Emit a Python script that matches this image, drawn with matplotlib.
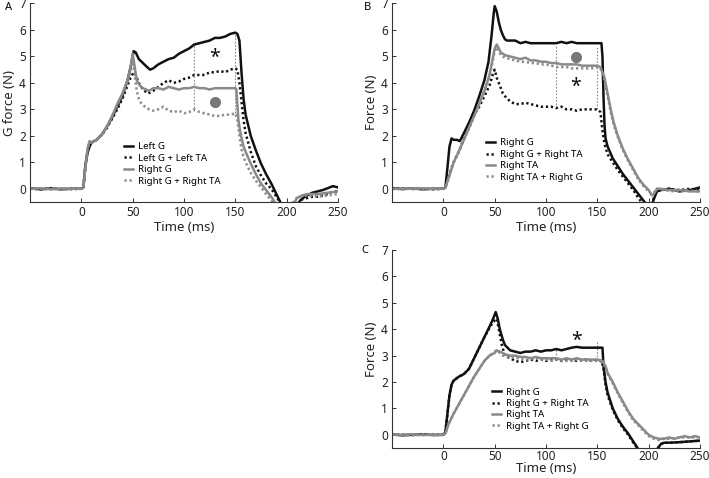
import matplotlib
matplotlib.use("Agg")
import matplotlib.pyplot as plt

plt.rcParams['font.family'] = ['Noto Sans', 'DejaVu Sans']

# ---------------- Panel A ----------------
A_leftG_t = [-50, -40, -30, -20, -10, 0, 2, 4, 6, 8, 10, 15, 20, 25, 30, 35, 40, 45, 48, 51, 53, 56, 60, 64, 67, 70, 75, 80, 85, 90, 95, 100, 105, 110, 115, 120, 125, 130, 135, 140, 145, 150, 152, 154, 156, 158, 160, 165, 170, 175, 180, 185, 190, 195, 200, 205, 210, 213, 216, 220, 225, 230, 235, 240, 245, 250]
A_leftG_f = [0.02, -0.02, 0.01, -0.02, 0.0, 0.0, 0.05, 0.9, 1.35, 1.6, 1.75, 1.85, 2.05, 2.35, 2.7, 3.1, 3.5, 4.1, 4.6, 5.2, 5.15, 4.9, 4.75, 4.6, 4.5, 4.55, 4.7, 4.8, 4.9, 4.95, 5.1, 5.2, 5.3, 5.45, 5.5, 5.55, 5.6, 5.7, 5.7, 5.75, 5.85, 5.9, 5.85, 5.6, 4.4, 3.4, 2.8, 2.0, 1.45, 0.95, 0.55, 0.2, -0.2, -0.6, -0.8, -0.8, -0.7, -0.45, -0.35, -0.25, -0.15, -0.1, -0.05, 0.02, 0.1, 0.05]

A_leftGTA_t = [-50, -40, -30, -20, -10, 0, 2, 4, 6, 8, 10, 15, 20, 25, 30, 35, 40, 45, 48, 51, 53, 56, 60, 65, 70, 75, 80, 85, 90, 95, 100, 105, 110, 115, 120, 125, 130, 135, 140, 145, 150, 152, 154, 156, 158, 160, 165, 170, 175, 180, 185, 190, 195, 200, 208, 212, 215, 220, 225, 230, 235, 240, 245, 250]
A_leftGTA_f = [0.01, -0.02, 0.02, 0.0, -0.01, 0.0, 0.05, 0.9, 1.4, 1.65, 1.75, 1.85, 2.05, 2.3, 2.65, 3.0, 3.4, 3.9, 4.2, 4.4, 4.3, 4.0, 3.75, 3.6, 3.7, 3.85, 4.0, 4.1, 4.0, 4.05, 4.15, 4.2, 4.3, 4.3, 4.3, 4.4, 4.4, 4.45, 4.4, 4.5, 4.55, 4.5, 4.0, 3.3, 2.6, 2.1, 1.4, 0.85, 0.5, 0.2, 0.0, -0.3, -0.6, -0.8, -0.8, -0.5, -0.4, -0.35, -0.3, -0.3, -0.25, -0.2, -0.1, -0.1]

A_rightG_t = [-50, -40, -30, -20, -10, 0, 2, 4, 6, 8, 10, 15, 20, 25, 30, 35, 40, 45, 48, 50, 52, 54, 57, 60, 63, 66, 70, 75, 80, 85, 90, 95, 100, 105, 110, 115, 120, 125, 130, 135, 140, 145, 150, 151, 153, 155, 158, 160, 165, 170, 175, 180, 185, 190, 205, 208, 210, 215, 220, 230, 240, 250]
A_rightG_f = [-0.01, 0.02, -0.02, 0.01, 0.0, 0.0, 0.05, 0.8, 1.5, 1.8, 1.75, 1.85, 2.05, 2.35, 2.75, 3.2, 3.6, 4.1, 4.6, 5.1, 4.6, 4.1, 3.9, 3.8, 3.75, 3.7, 3.8, 3.8, 3.75, 3.85, 3.8, 3.75, 3.8, 3.8, 3.85, 3.8, 3.8, 3.75, 3.8, 3.8, 3.8, 3.8, 3.8, 3.75, 2.6, 2.1, 1.6, 1.4, 0.95, 0.55, 0.2, -0.05, -0.3, -0.6, -0.8, -0.5, -0.35, -0.25, -0.2, -0.2, -0.15, -0.1]

A_rightGTA_t = [-50, -40, -30, -20, -10, 0, 2, 4, 6, 8, 10, 15, 20, 25, 30, 35, 40, 45, 48, 50, 52, 54, 56, 58, 62, 66, 70, 75, 80, 85, 90, 95, 100, 105, 110, 115, 120, 125, 130, 135, 140, 145, 150, 152, 154, 156, 158, 160, 165, 170, 175, 180, 185, 190, 205, 208, 212, 220, 230, 240, 250]
A_rightGTA_f = [0.02, 0.0, -0.02, 0.02, -0.01, 0.0, 0.05, 0.8, 1.5, 1.75, 1.75, 1.85, 2.05, 2.35, 2.75, 3.15, 3.55, 4.0, 4.5, 4.8, 4.3, 3.7, 3.4, 3.25, 3.1, 3.0, 2.95, 3.0, 3.1, 2.95, 2.9, 2.95, 2.85, 2.9, 3.0, 2.9, 2.85, 2.8, 2.75, 2.75, 2.8, 2.8, 2.85, 2.6, 2.0, 1.5, 1.2, 1.0, 0.6, 0.3, 0.05, -0.2, -0.45, -0.65, -0.6, -0.4, -0.3, -0.25, -0.3, -0.25, -0.2]

# ---------------- Panel B ----------------
B_rightG_t = [-50, -40, -30, -20, -10, 0, 2, 4, 6, 8, 10, 13, 16, 20, 25, 30, 35, 40, 44, 47, 49, 50, 52, 54, 56, 58, 60, 62, 65, 70, 75, 80, 85, 90, 95, 100, 105, 110, 115, 120, 125, 130, 135, 140, 145, 150, 154, 155, 156, 157, 158, 160, 165, 170, 175, 180, 185, 190, 195, 200, 203, 206, 208, 212, 220, 225, 230, 240, 245, 250]
B_rightG_f = [0.02, -0.01, 0.01, -0.02, 0.0, 0.0, 0.05, 0.8, 1.6, 1.9, 1.85, 1.85, 1.8, 2.1, 2.5, 2.95, 3.5, 4.1, 4.8, 5.8, 6.6, 6.9, 6.7, 6.3, 6.0, 5.8, 5.65, 5.6, 5.6, 5.6, 5.5, 5.55, 5.5, 5.5, 5.5, 5.5, 5.5, 5.5, 5.55, 5.5, 5.55, 5.5, 5.5, 5.5, 5.5, 5.5, 5.5, 5.0, 3.5, 2.4, 1.9, 1.6, 1.15, 0.85, 0.55, 0.3, 0.05, -0.2, -0.45, -0.7, -0.6, -0.3, -0.1, -0.05, 0.0, -0.05, -0.1, -0.05, 0.0, 0.05]

B_rightGTA_t = [-50, -40, -30, -20, -10, 0, 2, 5, 8, 10, 15, 20, 25, 30, 35, 40, 45, 48, 50, 52, 55, 58, 60, 65, 70, 75, 80, 85, 90, 95, 100, 105, 110, 115, 120, 125, 130, 135, 140, 145, 150, 153, 155, 157, 160, 165, 170, 175, 180, 185, 190, 195, 203, 206, 210, 220, 230, 240, 250]
B_rightGTA_f = [0.01, 0.02, -0.01, 0.01, -0.02, 0.0, 0.05, 0.4, 0.8, 1.0, 1.4, 1.9, 2.3, 2.8, 3.1, 3.5, 3.9, 4.3, 4.5, 4.2, 3.9, 3.6, 3.5, 3.3, 3.2, 3.2, 3.25, 3.2, 3.15, 3.1, 3.1, 3.1, 3.05, 3.1, 3.0, 3.0, 2.95, 3.0, 3.0, 3.0, 3.0, 2.9, 2.2, 1.7, 1.3, 1.0, 0.7, 0.45, 0.2, -0.05, -0.35, -0.6, -0.6, -0.2, -0.05, 0.0, -0.05, 0.0, -0.05]

B_rightTA_t = [-50, -40, -30, -20, -10, 0, 2, 5, 8, 10, 15, 20, 25, 30, 35, 40, 45, 48, 50, 52, 54, 56, 60, 65, 70, 75, 80, 85, 90, 95, 100, 105, 110, 115, 120, 125, 130, 135, 140, 145, 150, 153, 155, 157, 160, 163, 166, 170, 175, 180, 185, 190, 195, 200, 203, 205, 208, 212, 220, 230, 240, 250]
B_rightTA_f = [-0.01, 0.01, 0.0, 0.02, -0.01, 0.0, 0.05, 0.4, 0.75, 1.0, 1.4, 1.85, 2.3, 2.75, 3.2, 3.7, 4.3, 4.9, 5.3, 5.45, 5.3, 5.15, 5.05, 5.0, 4.95, 4.9, 4.95, 4.85, 4.85, 4.8, 4.8, 4.75, 4.75, 4.7, 4.7, 4.7, 4.7, 4.65, 4.65, 4.65, 4.65, 4.6, 4.4, 4.2, 3.6, 3.0, 2.5, 2.0, 1.5, 1.1, 0.75, 0.4, 0.15, -0.05, -0.25, -0.2, 0.0, 0.0, -0.05, -0.05, -0.1, -0.1]

B_rightTAG_t = [-50, -40, -30, -20, -10, 0, 2, 5, 8, 10, 15, 20, 25, 30, 35, 40, 45, 48, 50, 52, 54, 56, 60, 65, 70, 75, 80, 85, 90, 95, 100, 105, 110, 115, 120, 125, 130, 135, 140, 145, 150, 153, 155, 157, 160, 163, 166, 170, 175, 180, 185, 190, 195, 200, 203, 205, 208, 215, 225, 235, 250]
B_rightTAG_f = [0.0, -0.02, 0.01, -0.01, 0.02, 0.0, 0.05, 0.4, 0.75, 1.0, 1.4, 1.85, 2.3, 2.75, 3.2, 3.7, 4.25, 4.8, 5.2, 5.35, 5.2, 5.05, 4.95, 4.9, 4.85, 4.8, 4.8, 4.75, 4.75, 4.7, 4.7, 4.65, 4.6, 4.6, 4.6, 4.55, 4.55, 4.55, 4.55, 4.55, 4.6, 4.55, 4.35, 4.1, 3.5, 2.9, 2.4, 1.95, 1.45, 1.05, 0.7, 0.35, 0.1, -0.1, -0.2, -0.15, 0.0, -0.05, -0.1, -0.05, -0.1]

# ---------------- Panel C ----------------
C_rightG_t = [-50, -40, -30, -20, -10, 0, 2, 4, 6, 8, 10, 15, 20, 25, 30, 35, 40, 45, 48, 51, 53, 55, 58, 60, 65, 70, 75, 80, 85, 90, 95, 100, 105, 110, 115, 120, 125, 130, 135, 140, 145, 150, 155, 156, 158, 160, 165, 170, 175, 180, 185, 190, 208, 212, 215, 220, 230, 240, 250]
C_rightG_f = [0.01, -0.02, 0.0, 0.02, -0.01, 0.0, 0.1, 0.8, 1.5, 1.9, 2.05, 2.2, 2.3, 2.5, 2.9, 3.3, 3.7, 4.1, 4.35, 4.65, 4.4, 4.0, 3.6, 3.4, 3.2, 3.15, 3.1, 3.15, 3.15, 3.2, 3.15, 3.2, 3.2, 3.25, 3.2, 3.25, 3.3, 3.33, 3.3, 3.3, 3.3, 3.3, 3.3, 2.6, 2.0, 1.6, 1.0, 0.6, 0.3, 0.05, -0.25, -0.55, -0.55, -0.35, -0.3, -0.3, -0.28, -0.25, -0.22]

C_rightGTA_t = [-50, -40, -30, -20, -10, 0, 2, 4, 6, 8, 10, 15, 20, 25, 30, 35, 40, 45, 48, 52, 54, 57, 60, 65, 70, 75, 80, 85, 90, 95, 100, 105, 110, 115, 120, 125, 130, 135, 140, 145, 150, 154, 156, 158, 160, 165, 170, 175, 180, 185, 190, 208, 212, 215, 220, 230, 240, 250]
C_rightGTA_f = [0.0, 0.02, -0.01, 0.0, 0.01, 0.0, 0.1, 0.8, 1.5, 1.9, 2.05, 2.2, 2.3, 2.5, 2.9, 3.3, 3.7, 4.05, 4.25, 4.4, 4.0, 3.4, 3.0, 2.9, 2.8, 2.75, 2.8, 2.85, 2.8, 2.85, 2.8, 2.85, 2.85, 2.8, 2.85, 2.85, 2.8, 2.85, 2.85, 2.8, 2.85, 2.8, 2.5, 1.9, 1.5, 0.95, 0.55, 0.25, 0.0, -0.3, -0.55, -0.55, -0.35, -0.3, -0.3, -0.28, -0.25, -0.22]

C_rightTA_t = [-50, -40, -30, -20, -10, 0, 2, 5, 10, 15, 20, 25, 30, 35, 40, 45, 50, 52, 55, 58, 60, 65, 70, 75, 80, 85, 90, 95, 100, 105, 110, 115, 120, 125, 130, 135, 140, 145, 150, 155, 158, 160, 165, 170, 175, 180, 185, 190, 195, 200, 205, 210, 215, 220, 225, 230, 235, 240, 245, 250]
C_rightTA_f = [0.01, 0.0, 0.02, -0.01, 0.0, 0.0, 0.05, 0.4, 0.8, 1.15, 1.5, 1.85, 2.2, 2.5, 2.8, 3.0, 3.1, 3.2, 3.15, 3.1, 3.05, 3.0, 3.0, 2.95, 2.95, 2.9, 2.95, 2.9, 2.9, 2.9, 2.9, 2.85, 2.9, 2.85, 2.9, 2.85, 2.85, 2.85, 2.85, 2.8, 2.6, 2.35, 2.0, 1.6, 1.25, 0.9, 0.6, 0.4, 0.2, 0.0, -0.1, -0.15, -0.15, -0.1, -0.15, -0.1, -0.05, -0.1, -0.05, -0.1]

C_rightTAG_t = [-50, -40, -30, -20, -10, 0, 2, 5, 10, 15, 20, 25, 30, 35, 40, 45, 50, 52, 55, 58, 60, 65, 70, 75, 80, 85, 90, 95, 100, 105, 110, 115, 120, 125, 130, 135, 140, 145, 150, 155, 158, 160, 165, 170, 175, 180, 185, 190, 195, 200, 205, 210, 215, 220, 230, 240, 250]
C_rightTAG_f = [0.0, 0.01, -0.01, 0.02, 0.0, 0.0, 0.05, 0.4, 0.8, 1.15, 1.5, 1.85, 2.2, 2.5, 2.8, 3.0, 3.15, 3.2, 3.1, 3.0, 2.95, 2.95, 2.9, 2.9, 2.85, 2.85, 2.9, 2.85, 2.85, 2.8, 2.85, 2.8, 2.8, 2.8, 2.85, 2.8, 2.8, 2.8, 2.8, 2.75, 2.55, 2.3, 1.95, 1.55, 1.2, 0.85, 0.55, 0.35, 0.15, -0.05, -0.15, -0.2, -0.15, -0.15, -0.1, -0.1, -0.1]

# vertical dotted reference lines: (x, ymin, ymax)
A_vlines = [(110, 2.95, 5.42), (150, 2.85, 5.88)]
B_vlines = [(110, 3.05, 5.4), (150, 3.0, 5.4)]
C_vlines = [(110, 2.9, 3.3), (150, 2.85, 3.55)]

A_labels = ["Left G", "Left G + Left TA", "Right G", "Right G + Right TA"]
B_labels = ["Right G", "Right G + Right TA", "Right TA", "Right TA + Right G"]
C_labels = ["Right G", "Right G + Right TA", "Right TA", "Right TA + Right G"]

x_ticks = [0, 50, 100, 150, 200, 250]
y_ticks = [0, 1, 2, 3, 4, 5, 6, 7]

BLACK = "#111111"
GRAY = "#8a8a8a"
DOT = (0, (0.9, 1.1))

W, H = 709, 478
fig = plt.figure(figsize=(W / 100, H / 100), dpi=100)


def make_axes(l, r, t, b):
    return fig.add_axes([l / W, 1 - b / H, (r - l) / W, (b - t) / H])


def style(ax, ylabel, xpad=3, xlabelpad=1):
    ax.set_xlim(-50, 250)
    ax.set_ylim(-0.5, 7)
    ax.set_xticks(x_ticks)
    ax.set_yticks(y_ticks)
    for s in ["top", "right"]:
        ax.spines[s].set_visible(False)
    for s in ["left", "bottom"]:
        ax.spines[s].set_linewidth(0.8)
        ax.spines[s].set_color("#333333")
    ax.tick_params(direction="in", length=3, width=0.7, labelsize=8.5, colors="#333333",
                   labelcolor="#222222", pad=3)
    ax.tick_params(axis="x", pad=xpad)
    ax.set_xlabel("Time (ms)", fontsize=9.5, labelpad=xlabelpad, color="#222222")
    ax.set_ylabel(ylabel, fontsize=9.5, labelpad=2, color="#222222")


def draw(ax, series, labels, vlines, leg_xy):
    styles = [dict(color=BLACK, lw=1.8, ls="-"),
              dict(color=BLACK, lw=1.8, ls=DOT),
              dict(color=GRAY, lw=1.8, ls="-"),
              dict(color=GRAY, lw=1.8, ls=DOT)]
    for x, y0, y1 in vlines:
        ax.plot([x, x], [y0, y1], color=GRAY, lw=0.8, ls=(0, (1.5, 1.5)), zorder=1)
    handles = [None] * 4
    for i in [3, 2, 1, 0]:
        t, f = series[i]
        handles[i], = ax.plot(t, f, label=labels[i], zorder=2 + i * 0.1, **styles[i])
    ax.legend(handles=handles, labels=labels, loc="upper left", bbox_to_anchor=leg_xy,
              frameon=False, fontsize=7, handlelength=0.9, handletextpad=0.5,
              labelspacing=0.25, borderpad=0, borderaxespad=0)


# Panel A
axA = make_axes(30, 338, 3.5, 202)
style(axA, "G force (N)")
draw(axA, [(A_leftG_t, A_leftG_f), (A_leftGTA_t, A_leftGTA_f),
           (A_rightG_t, A_rightG_f), (A_rightGTA_t, A_rightGTA_f)],
     A_labels, A_vlines, (0.305, 0.30))
axA.text(130, 4.95, "*", fontsize=14, ha="center", va="center", color=BLACK)
axA.plot([130], [3.27], "o", color="#777777", ms=7)

# Panel B
axB = make_axes(392, 700, 3.5, 202)
style(axB, "Force (N)")
draw(axB, [(B_rightG_t, B_rightG_f), (B_rightGTA_t, B_rightGTA_f),
           (B_rightTA_t, B_rightTA_f), (B_rightTAG_t, B_rightTAG_f)],
     B_labels, B_vlines, (0.305, 0.32))
axB.text(129, 3.85, "*", fontsize=14, ha="center", va="center", color=BLACK)
axB.plot([129], [4.98], "o", color="#777777", ms=7)

# Panel C
axC = make_axes(392, 700, 250, 448)
style(axC, "Force (N)", xpad=1.5, xlabelpad=-1)
draw(axC, [(C_rightG_t, C_rightG_f), (C_rightGTA_t, C_rightGTA_f),
           (C_rightTA_t, C_rightTA_f), (C_rightTAG_t, C_rightTAG_f)],
     C_labels, C_vlines, (0.325, 0.305))
axC.text(130, 3.55, "*", fontsize=14, ha="center", va="center", color=BLACK)

fig.text(5 / W, 1 - 7 / H, "A", fontsize=8, fontweight="bold", va="center", ha="left")
fig.text(364 / W, 1 - 7 / H, "B", fontsize=8, fontweight="bold", va="center", ha="left")
fig.text(361 / W, 1 - 251 / H, "C", fontsize=8, fontweight="bold", va="center", ha="left")

fig.savefig("out.png", dpi=100)
